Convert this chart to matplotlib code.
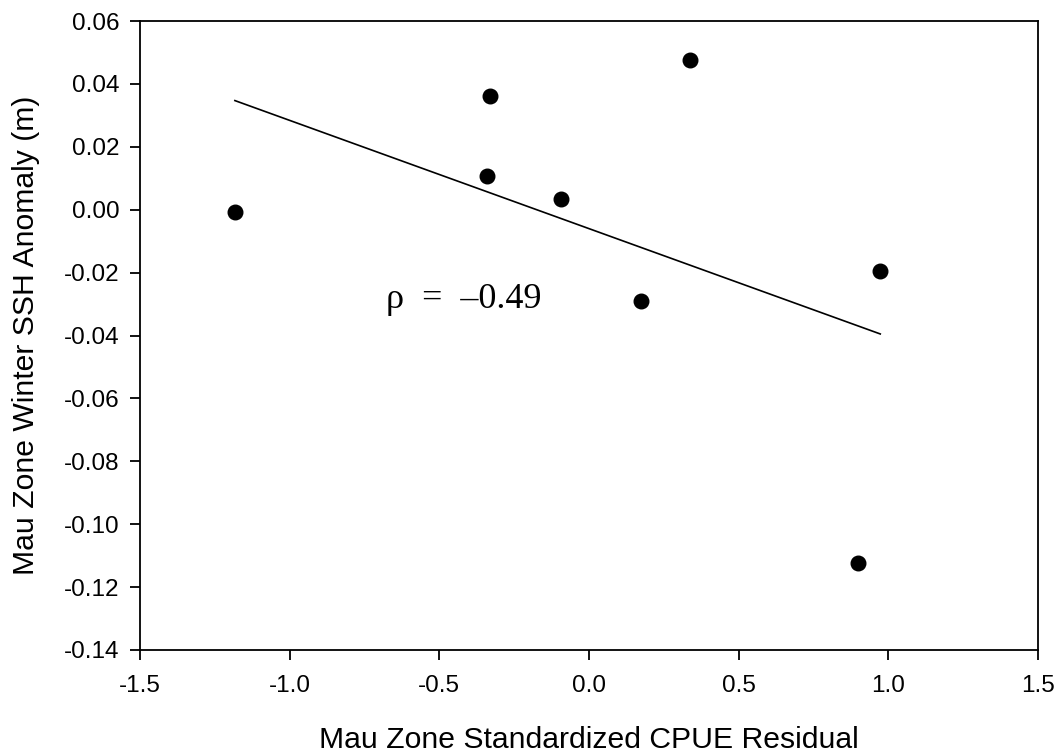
import numpy as np
import matplotlib
matplotlib.use("Agg")
import matplotlib.pyplot as plt

plt.rcParams['font.family'] = ['Liberation Sans', 'DejaVu Sans']
plt.rcParams['axes.unicode_minus'] = False

# data
cpue = [-1.183, -0.33, -0.34, -0.093, 0.337, 0.173, 0.973, 0.900]
ssh = [-0.0006, 0.0362, 0.0108, 0.0035, 0.0476, -0.0289, -0.0194, -0.1124]
rho_label = "\u03c1  =  \u20130.49"

fig = plt.figure(figsize=(10.6, 7.53), dpi=100)
ax = fig.add_axes([140/1060, 1 - 650/753, 898/1060, 629/753])

ax.scatter(cpue, ssh, s=110, color="black", zorder=3)

# linear fit line over the x range
m, b = np.polyfit(cpue, ssh, 1)
xs = np.array([min(cpue), max(cpue)])
ax.plot(xs, m*xs + b, color="black", lw=1.2)

ax.text(-0.418, -0.0313, rho_label, family=['Liberation Serif', 'DejaVu Serif'],
        fontsize=26, ha="center", va="baseline")

ax.set_xlim(-1.5, 1.5)
ax.set_ylim(-0.14, 0.06)
ax.set_xticks(np.arange(-1.5, 1.51, 0.5))
ax.set_yticks(np.arange(-0.14, 0.061, 0.02))
ax.set_xticklabels(["%.1f" % v for v in np.arange(-1.5, 1.51, 0.5)])
ax.set_yticklabels(["%.2f" % (round(v, 2) + 0.0) for v in np.arange(-0.14, 0.061, 0.02)])
ax.tick_params(direction="out", length=7, width=1.3, labelsize=17.5)
ax.tick_params(axis="y", pad=8)
ax.tick_params(axis="x", pad=11)
for s in ax.spines.values():
    s.set_linewidth(1.3)

ax.set_xlabel("Mau Zone Standardized CPUE Residual", fontsize=21.7, labelpad=21)
ax.set_ylabel("Mau Zone Winter SSH Anomaly (m)", fontsize=21.7, labelpad=17)

fig.savefig("out.png", dpi=100)
